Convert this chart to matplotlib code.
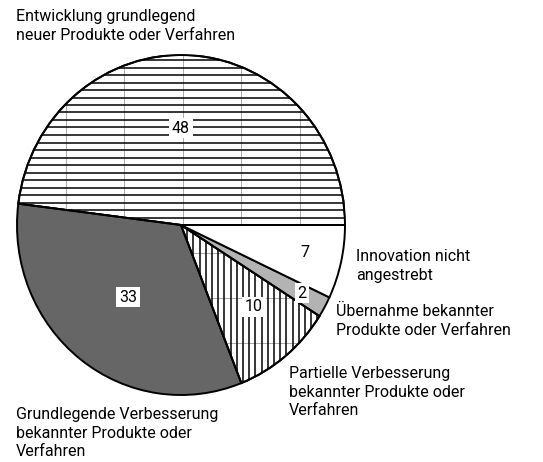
import numpy as np
import matplotlib
matplotlib.use("Agg")
import matplotlib.pyplot as plt
from matplotlib.collections import LineCollection
from matplotlib.patches import Wedge

# Data
categories = [
    "Entwicklung grundlegend\nneuer Produkte oder Verfahren",
    "Grundlegende Verbesserung\nbekannter Produkte oder\nVerfahren",
    "Partielle Verbesserung\nbekannter Produkte oder\nVerfahren",
    "Übernahme bekannter\nProdukte oder Verfahren",
    "Innovation nicht\nangestrebt",
]
values = [48, 33, 10, 2, 7]
value_labels = ["48", "33", "10", "2", "7"]

# Styles
colors = ["white", "#666666", "white", "#b3b3b3", "white"]
hatch_kind = ["h", None, "v", None, None]
label_r = [0.57, 0.533, 0.656, 0.84, 0.773]
label_dang = [3.6, 0.5, 3.1, 0.3, 0.7]
label_box = [True, True, True, True, False]
# outer label positions in pixel (left, first baseline)
outer_pos = [(16, 21), (16, 419), (289, 378), (336, 316), (356, 261)]
line_step = 18.7

plt.rcParams['font.family'] = ['Roboto', 'DejaVu Sans']

W, H = 543, 462
fig = plt.figure(figsize=(W / 100, H / 100), dpi=100)
cx, cy, rx, ry = 181, 225, 164, 170
ax = fig.add_axes([(cx - rx) / W, (H - cy - ry) / H, 2 * rx / W, 2 * ry / H])

wedges, _ = ax.pie(values, colors=colors, startangle=0, counterclock=True,
                   wedgeprops=dict(edgecolor="black", linewidth=1.4))
ax.set_aspect('auto')
ax.set_xlim(-1, 1)
ax.set_ylim(-1, 1)
ax.axis('off')

# manual hatching (style)
hs = 7.5 / ry      # horizontal line spacing in data units
vs = 6.2 / rx      # vertical line spacing
gsx = 58.5 / rx    # faint seam spacing
for w, kind in zip(wedges, hatch_kind):
    if kind is None:
        continue
    segs, faint = [], []
    if kind == "h":
        for k in range(-30, 31):
            segs.append([(-1.1, k * hs), (1.1, k * hs)])
        for k in range(-5, 6):
            faint.append([(k * gsx + 0.01, -1.1), (k * gsx + 0.01, 1.1)])
    else:
        for k in range(-40, 41):
            segs.append([(k * vs, -1.1), (k * vs, 1.1)])
        for k in range(-5, 6):
            y = -(73 + 45 * k) / ry
            faint.append([(-1.1, y), (1.1, y)])
    lc = LineCollection(segs, colors="black", linewidths=1.1, zorder=1.5)
    lc2 = LineCollection(faint, colors="#8a8a8a", linewidths=0.5, zorder=1.4)
    ax.add_collection(lc2)
    ax.add_collection(lc)
    lc.set_clip_path(w)
    lc2.set_clip_path(w)
    w.set_zorder(1)
    ax.add_patch(Wedge(w.center, w.r, w.theta1, w.theta2, facecolor='none',
                       edgecolor='black', linewidth=1.4, zorder=2))

total = sum(values)
start = 0.0
for v, lab, r, da, box in zip(values, value_labels, label_r, label_dang, label_box):
    ang = np.deg2rad(start + 360 * v / total / 2 + da)
    start += 360 * v / total
    kw = {}
    if box:
        kw['bbox'] = dict(facecolor='white', edgecolor='none', pad=2)
    ax.text(r * np.cos(ang), r * np.sin(ang), lab, ha='center', va='center',
            fontsize=11.5, zorder=5, **kw)

for txt, (px, py) in zip(categories, outer_pos):
    for i, line in enumerate(txt.split("\n")):
        fig.text(px / W, 1 - (py + i * line_step) / H, line, ha='left',
                 va='baseline', fontsize=11.5)

fig.savefig("out.png", dpi=100)
